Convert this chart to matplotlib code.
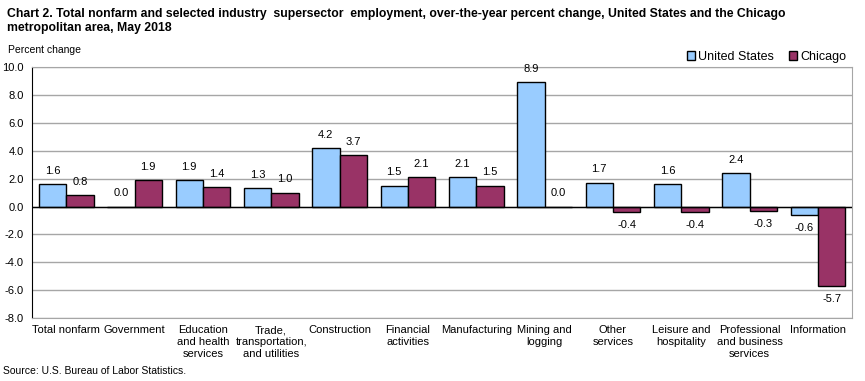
import matplotlib
matplotlib.use("Agg")
import matplotlib.pyplot as plt
import numpy as np
from matplotlib.patches import Patch

categories = ["Total nonfarm", "Government", "Education\nand health\nservices",
              "Trade,\ntransportation,\nand utilities", "Construction", "Financial\nactivities",
              "Manufacturing", "Mining and\nlogging", "Other\nservices", "Leisure and\nhospitality",
              "Professional\nand business\nservices", "Information"]
us_values = [1.6, 0.0, 1.9, 1.3, 4.2, 1.5, 2.1, 8.9, 1.7, 1.6, 2.4, -0.6]
chicago_values = [0.8, 1.9, 1.4, 1.0, 3.7, 2.1, 1.5, 0.0, -0.4, -0.4, -0.3, -5.7]
yticks = [10.0, 8.0, 6.0, 4.0, 2.0, 0.0, -2.0, -4.0, -6.0, -8.0]

plt.rcParams['font.family'] = ['Liberation Sans', 'DejaVu Sans']

fig = plt.figure(figsize=(8.65, 3.81), dpi=100)
ax = fig.add_axes([0.037, 0.165, 0.948, 0.659])

x = np.arange(len(categories))
w = 0.4
us_color = "#99CCFF"
chi_color = "#993366"
ax.bar(x - w/2, us_values, w, color=us_color, edgecolor="black", linewidth=1, zorder=3)
ax.bar(x + w/2, chicago_values, w, color=chi_color, edgecolor="black", linewidth=1, zorder=3)

fs = 8
off = 0.6
for xs, vals in ((x - w/2, us_values), (x + w/2, chicago_values)):
    for xi, v in zip(xs, vals):
        if v >= 0:
            ax.text(xi, v + off, f"{v:.1f}", ha="center", va="bottom", fontsize=fs)
        else:
            ax.text(xi, v - off, f"{v:.1f}", ha="center", va="top", fontsize=fs)

ax.set_xlim(-0.5, len(categories) - 0.5)
ax.set_ylim(-8, 10)
ax.set_yticks(yticks)
ax.set_yticklabels([f"{t:.1f}" for t in yticks], fontsize=fs)
ax.tick_params(axis="y", length=0, pad=6)
ax.set_xticks(x)
ax.set_xticklabels(categories, fontsize=fs, va="top", linespacing=1.25)
ax.tick_params(axis="x", length=0, pad=5)
ax.grid(axis="y", color="#a6a6a6", linewidth=1, zorder=0)
ax.axhline(0, color="black", linewidth=1, zorder=4)
for s in ["top", "right", "bottom"]:
    ax.spines[s].set_color("#a6a6a6")
ax.spines["left"].set_color("black")

fig.text(0.008, 0.98, "Chart 2. Total nonfarm and selected industry  supersector  employment, over-the-year percent change, United States and the Chicago\nmetropolitan area, May 2018",
         fontsize=8.8, fontweight="bold", va="top", ha="left", linespacing=1.3)
fig.text(0.009, 0.868, "Percent change", fontsize=7.5, va="center", ha="left")
fig.text(0.003, 0.025, "Source: U.S. Bureau of Labor Statistics.", fontsize=7.5, va="center", ha="left")

handles = [Patch(facecolor=us_color, edgecolor="black", label="United States"),
           Patch(facecolor=chi_color, edgecolor="black", label="Chicago")]
fig.legend(handles=handles, loc="center right", bbox_to_anchor=(0.978, 0.851), ncol=2, frameon=False,
           fontsize=9, handlelength=0.7, handleheight=0.7, handletextpad=0.2, columnspacing=1.2,
           borderaxespad=0, borderpad=0)

fig.savefig("out.png", dpi=100)
